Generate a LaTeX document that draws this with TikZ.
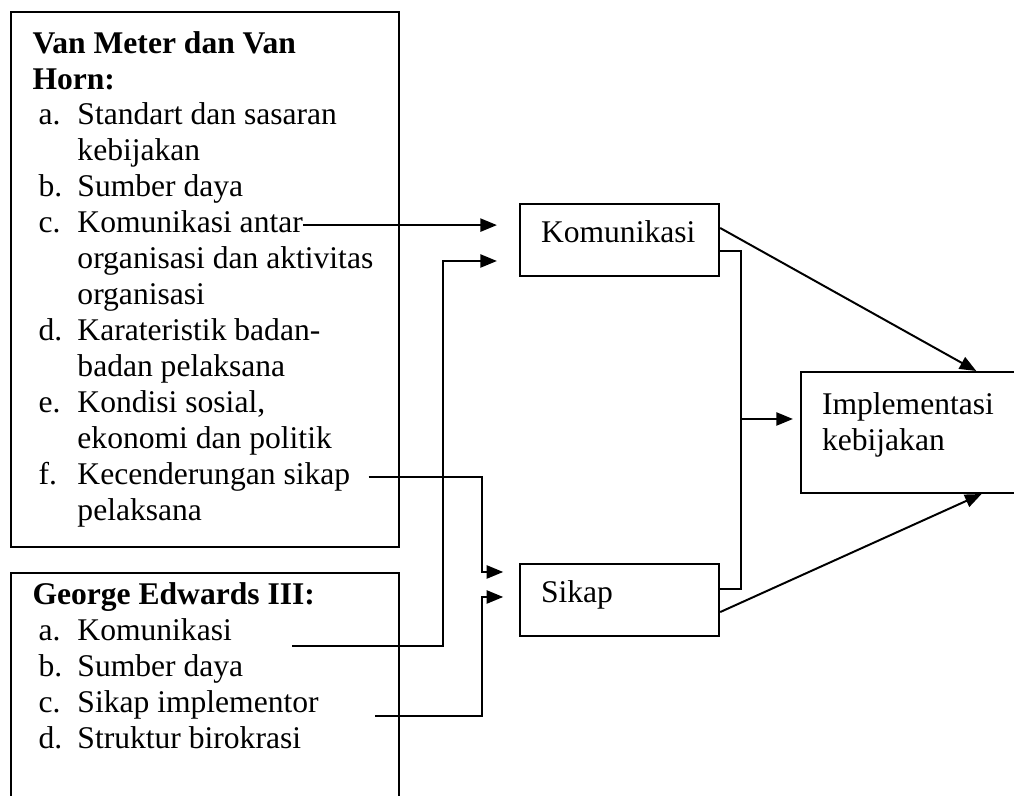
\documentclass[tikz,border=0pt]{standalone}
\usepackage{fontspec}
\setmainfont{Liberation Serif}
\usetikzlibrary{arrows.meta,positioning,calc}

\begin{document}
\begin{tikzpicture}[
    x=0.38pt, y=-0.38pt,
    every node/.style={font=\fontsize{12pt}{13.8pt}\selectfont},
    panel/.style={draw, line width=0.75pt, anchor=north west, minimum width=147.4pt, inner sep=0pt},
    item/.style={anchor=base west, inner sep=0pt, text height=8pt, text depth=2pt},
    head/.style={item, font=\fontsize{12pt}{13.8pt}\selectfont\bfseries},
    factor/.style={draw, line width=0.75pt, anchor=north west, minimum height=27.4pt, text width=59.7pt, align=left, inner xsep=8pt, text height=8pt, text depth=6pt},
    arrow/.style={-{Triangle[length=6.3pt, width=5pt]}, line width=0.75pt},
    line/.style={line width=0.75pt}
]
    \useasboundingbox (0,0) rectangle (1014,796);
    \clip (0,0) rectangle (1014,796);

    % Van Meter dan Van Horn
    \node[panel, minimum height=203.3pt] (vmh) at (10,11) {};
    \node[head] (vh1) at (32,54) {Van Meter dan Van};
    \node[head] (vh2) at (32,90) {Horn:};
    \foreach \n/\l/\t in {1/a./Standart dan sasaran, 2//kebijakan, 3/b./Sumber daya,
        4/c./Komunikasi antar, 5//organisasi dan aktivitas, 6//organisasi,
        7/d./Karateristik badan-, 8//badan pelaksana, 9/e./{Kondisi sosial,},
        10//ekonomi dan politik, 11/f./Kecenderungan sikap, 12//pelaksana} {
        \node[item] (v\n) at (38, 89+\n*36) {\makebox[14.8pt][l]{\l}\t};
    }

    % George Edwards III
    \node[panel, minimum height=100pt] (gei) at (10,572) {};
    \node[head] (gh) at (32,605) {George Edwards III:};
    \foreach \n/\l/\t in {1/a./Komunikasi, 2/b./Sumber daya, 3/c./Sikap implementor, 4/d./Struktur birokrasi} {
        \node[item] (g\n) at (38, 605+\n*36) {\makebox[14.8pt][l]{\l}\t};
    }

    % Faktor
    \node[factor] (kom) at (519,203) {Komunikasi};
    \node[factor] (sik) at (519,563) {Sikap};
    \node[factor, text width=80pt, minimum height=46pt, text depth=22pt] (imp) at (800,371) {Implementasi\\kebijakan};

    % Panah ke Komunikasi
    \draw[arrow, shorten >=8.4pt] (v4.east) -- (v4.east -| kom.west);
    \coordinate (ga) at (292,646);
    \coordinate (gbend) at (443,261);
    \draw[arrow, shorten >=8.4pt] (ga) -| (gbend) -- (gbend -| kom.west);

    % Panah ke Sikap
    \coordinate (fbend) at (482,572);
    \draw[arrow, shorten >=6pt] ([xshift=6.8pt]v11.east) -| (fbend) -- (fbend -| sik.west);
    \coordinate (gc) at (375,716);
    \coordinate (cbend) at (482,597);
    \draw[arrow, shorten >=6pt] (gc) -| (cbend) -- (cbend -| sik.west);

    % Ke Implementasi
    \draw[arrow] ([yshift=-9.5pt]kom.north east) -- ([xshift=67pt]imp.north west);
    \draw[arrow] ([yshift=9.5pt]sik.south east) -- ([xshift=69pt]imp.south west);
    \coordinate (mid) at (741,419);
    \draw[line] ([yshift=-18.2pt]kom.north east) -| (mid) |- ([yshift=18.2pt]sik.south east);
    \draw[arrow, shorten >=2.7pt] (mid) -- (mid -| imp.west);
\end{tikzpicture}
\end{document}
